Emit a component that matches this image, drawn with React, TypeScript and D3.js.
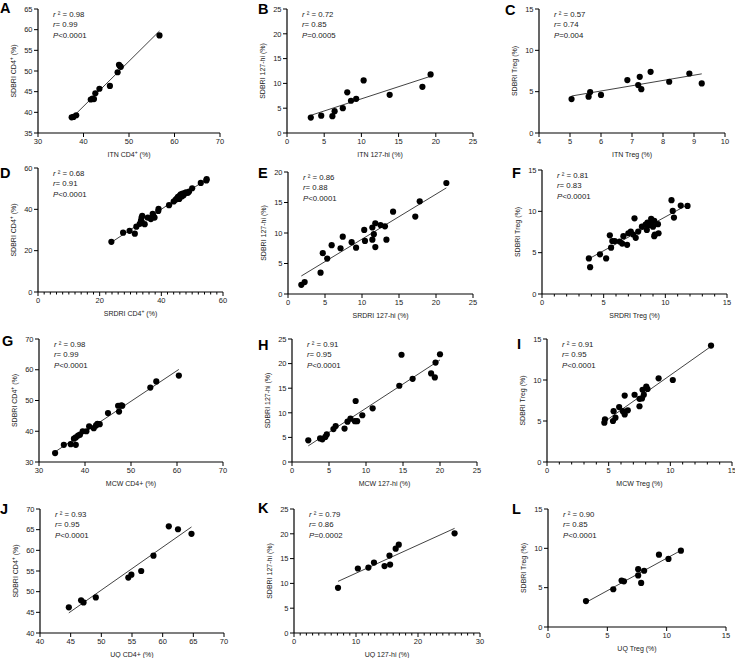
import React from "react";
import * as d3 from "d3";

type Pt = [number, number];

// panel letters, axis titles and stats
const letters = ["A", "B", "C", "D", "E", "F", "G", "H", "I", "J", "K", "L"];
const xTitles = [
  "ITN CD4^+ (%)", "ITN 127-hi (%)", "ITN Treg (%)",
  "SRDRI CD4^+ (%)", "SRDRI 127-hi (%)", "SRDRI Treg (%)",
  "MCW CD4+ (%)", "MCW 127-hi (%)", "MCW Treg (%)",
  "UQ CD4+ (%)", "UQ 127-hi (%)", "UQ Treg (%)",
];
const yTitles = [
  "SDBRI CD4^+ (%)", "SDBRI 127-hi (%)", "SDBRI Treg (%)",
  "SDBRI CD4^+ (%)", "SDBRI 127-hi (%)", "SDBRI Treg (%)",
  "SDBRI CD4^+ (%)", "SDBRI 127-hi (%)", "SDBRI Treg (%)",
  "SDBRI CD4^+ (%)", "SDBRI 127-hi (%)", "SDBRI Treg (%)",
];
const rSquared = ["0.98", "0.72", "0.57", "0.68", "0.86", "0.81", "0.98", "0.91", "0.91", "0.93", "0.79", "0.90"];
const rValues = ["0.99", "0.85", "0.74", "0.91", "0.88", "0.83", "0.99", "0.95", "0.95", "0.95", "0.86", "0.85"];
const pValues = ["<0.0001", "=0.0005", "=0.004", "<0.0001", "<0.0001", "<0.0001", "<0.0001", "<0.0001", "<0.0001", "<0.0001", "=0.0002", "<0.0001"];

// tick values
const xTicks = [
  [30, 40, 50, 60, 70], [0, 5, 10, 15, 20, 25], [4, 5, 6, 7, 8, 9, 10],
  [0, 20, 40, 60], [0, 5, 10, 15, 20, 25], [0, 5, 10, 15],
  [30, 40, 50, 60, 70], [0, 5, 10, 15, 20, 25], [0, 5, 10, 15],
  [40, 45, 50, 55, 60, 65, 70], [0, 10, 20, 30], [0, 5, 10, 15],
];
const yTicks = [
  [35, 40, 45, 50, 55, 60, 65], [0, 5, 10, 15, 20, 25], [0, 5, 10, 15],
  [0, 20, 40, 60], [0, 5, 10, 15, 20], [0, 5, 10, 15],
  [30, 40, 50, 60, 70], [0, 5, 10, 15, 20, 25], [0, 5, 10, 15],
  [40, 45, 50, 55, 60, 65, 70], [0, 5, 10, 15, 20, 25], [0, 5, 10, 15],
];
const xMinorStep = [0, 0, 0, 2, 0, 1, 0, 0, 1, 0, 1, 0];

// scatter data, one array per panel
const ptsA: Pt[] = [[37.4, 38.8], [37.8, 38.9], [38.4, 39.3], [41.6, 43.1], [42.0, 43.3], [42.3, 43.2], [42.6, 44.6], [43.5, 45.7], [45.8, 46.4], [47.5, 49.7], [47.8, 51.5], [48.0, 51.2], [48.2, 51.0], [56.7, 58.6]];
const ptsB: Pt[] = [[3.2, 3.1], [4.6, 3.5], [6.1, 3.4], [6.4, 4.4], [7.5, 5.0], [8.1, 8.2], [8.6, 6.5], [9.3, 6.9], [10.3, 10.6], [13.8, 7.7], [18.2, 9.3], [19.3, 11.8]];
const ptsC: Pt[] = [[5.05, 4.1], [5.6, 4.4], [5.65, 4.95], [6.0, 4.6], [6.85, 6.4], [7.2, 5.8], [7.25, 6.8], [7.3, 5.3], [7.6, 7.4], [8.2, 6.2], [8.85, 7.2], [9.25, 6.0]];
const ptsD: Pt[] = [[23.8, 24.3], [27.6, 28.7], [29.7, 29.6], [31.4, 28.2], [31.9, 31.6], [33.0, 33.0], [33.4, 34.5], [33.6, 36.0], [33.8, 36.8], [34.6, 32.8], [35.6, 36.0], [36.6, 35.3], [37.2, 37.8], [37.4, 36.8], [37.8, 36.0], [39.0, 39.2], [39.1, 40.2], [42.5, 42.0], [44.0, 43.8], [44.6, 44.6], [45.0, 45.2], [45.4, 46.0], [45.8, 45.0], [46.0, 46.6], [46.3, 47.2], [46.6, 46.2], [46.9, 47.6], [47.2, 46.8], [47.6, 47.8], [48.0, 48.2], [48.6, 48.0], [49.0, 48.6], [50.0, 50.2], [52.8, 52.8], [54.6, 54.0], [54.7, 54.6]];
const ptsE: Pt[] = [[1.8, 1.5], [2.25, 1.95], [4.4, 3.5], [4.7, 6.7], [5.3, 5.8], [5.9, 8.0], [7.1, 7.5], [7.4, 9.4], [8.6, 8.5], [9.2, 7.6], [10.3, 10.5], [10.4, 8.7], [11.4, 8.9], [11.4, 10.9], [11.6, 9.8], [11.8, 7.7], [11.8, 11.6], [12.5, 11.3], [13.1, 11.1], [13.3, 8.9], [14.2, 13.5], [17.2, 12.7], [17.8, 15.2], [21.4, 18.2]];
const ptsF: Pt[] = [[3.8, 4.3], [3.9, 3.25], [4.7, 4.8], [5.2, 4.3], [5.5, 7.1], [5.6, 5.6], [5.7, 6.4], [5.9, 6.4], [6.3, 6.35], [6.5, 6.1], [6.6, 7.0], [6.9, 5.95], [7.0, 7.35], [7.2, 7.55], [7.4, 7.2], [7.5, 9.15], [7.6, 6.8], [7.8, 7.55], [8.1, 8.15], [8.4, 8.4], [8.5, 7.75], [8.55, 8.65], [8.7, 8.35], [8.85, 9.1], [8.9, 8.75], [9.0, 8.15], [9.1, 8.85], [9.1, 7.0], [9.15, 7.2], [9.4, 8.45], [9.45, 7.35], [10.5, 11.35], [10.6, 10.05], [10.7, 9.25], [11.25, 10.7], [11.8, 10.65]];
const ptsG: Pt[] = [[33.5, 32.9], [35.4, 35.6], [36.9, 35.8], [37.6, 37.6], [38.0, 38.0], [38.0, 35.6], [38.5, 38.6], [38.9, 38.9], [39.5, 40.0], [40.3, 40.0], [40.9, 41.6], [41.9, 41.0], [42.4, 41.9], [42.7, 42.4], [43.2, 42.3], [45.0, 45.9], [47.2, 48.3], [47.4, 46.4], [47.9, 48.4], [48.1, 48.3], [54.2, 54.2], [55.5, 56.2], [60.4, 58.1]];
const ptsH: Pt[] = [[2.2, 4.4], [3.8, 4.8], [4.1, 4.6], [4.5, 5.1], [4.7, 5.6], [5.6, 6.7], [5.9, 7.3], [7.1, 6.8], [7.5, 8.2], [7.9, 8.8], [8.6, 12.4], [8.5, 8.3], [8.8, 8.3], [9.5, 9.5], [10.9, 10.9], [14.5, 15.5], [14.8, 21.8], [16.3, 16.9], [18.8, 18.0], [19.3, 17.2], [19.4, 20.2], [20.0, 21.9]];
const ptsI: Pt[] = [[4.65, 4.8], [4.7, 5.2], [5.35, 5.0], [5.4, 6.2], [5.55, 5.4], [5.85, 6.7], [6.15, 6.2], [6.3, 8.1], [6.3, 5.8], [6.55, 6.3], [7.1, 8.2], [7.5, 6.8], [7.5, 7.7], [7.7, 7.75], [7.75, 8.8], [7.85, 8.2], [8.05, 9.2], [8.15, 8.9], [9.05, 10.2], [10.2, 10.0], [13.3, 14.2]];
const ptsJ: Pt[] = [[44.7, 46.2], [46.7, 47.9], [47.1, 47.4], [49.1, 48.6], [54.4, 53.4], [54.9, 54.1], [56.5, 55.0], [58.5, 58.7], [61.0, 65.8], [62.5, 65.1], [64.7, 64.0]];
const ptsK: Pt[] = [[7.1, 9.1], [10.3, 13.0], [12.0, 13.2], [12.9, 14.2], [14.6, 13.5], [15.4, 15.6], [15.5, 13.8], [16.4, 17.0], [16.9, 17.8], [25.9, 20.1]];
const ptsL: Pt[] = [[3.2, 3.3], [5.5, 4.8], [6.2, 5.9], [6.4, 5.8], [7.6, 7.35], [7.6, 6.55], [7.85, 5.6], [8.1, 7.15], [9.35, 9.2], [10.15, 8.65], [11.2, 9.7]];
const panelPts = [ptsA, ptsB, ptsC, ptsD, ptsE, ptsF, ptsG, ptsH, ptsI, ptsJ, ptsK, ptsL];

// layout: plot frame [left, right, top, bottom] and letter position
const frames = [
  [38, 220, 9, 133], [287, 473, 9, 133], [539, 725, 9, 133],
  [38, 223, 168, 292], [288, 473, 172, 294], [542, 727, 170, 294],
  [39, 223, 339, 462], [292, 477, 339, 462], [547, 732, 339, 462],
  [40, 224, 509, 633], [294, 480, 509, 633], [548, 726, 509, 627],
];
const letterPos = [
  [0, 13], [258, 14], [505, 15],
  [0, 178], [258, 178], [512, 178],
  [2, 346], [258, 350], [517, 349],
  [0, 514], [258, 513], [512, 514],
];

const FONT = "'Liberation Sans', Arial, Helvetica, sans-serif";
const TXT = "#222";

function regression(pts: Pt[]) {
  const mx = d3.mean(pts, (d) => d[0]) as number;
  const my = d3.mean(pts, (d) => d[1]) as number;
  let sxy = 0, sxx = 0;
  pts.forEach(([x, y]) => { sxy += (x - mx) * (y - my); sxx += (x - mx) * (x - mx); });
  const slope = sxy / sxx;
  const icpt = my - slope * mx;
  const [x0, x1] = d3.extent(pts, (d) => d[0]) as [number, number];
  return [[x0, icpt + slope * x0], [x1, icpt + slope * x1]] as Pt[];
}

function Title({ text, ...rest }: any) {
  const parts = text.split("^+");
  return (
    <text {...rest}>
      {parts[0]}
      {parts.length > 1 && (
        <>
          <tspan dy={-2.5} fontSize={5}>+</tspan>
          <tspan dy={2.5}>{parts[1]}</tspan>
        </>
      )}
    </text>
  );
}

function Panel({ i }: { i: number }) {
  const [l, r, t, b] = frames[i];
  const xt = xTicks[i];
  const yt = yTicks[i];
  const x = d3.scaleLinear().domain([xt[0], xt[xt.length - 1]]).range([l, r]);
  const y = d3.scaleLinear().domain([yt[0], yt[yt.length - 1]]).range([b, t]);
  const pts = panelPts[i];
  const fit = regression(pts);
  const line = d3.line<Pt>().x((d) => x(d[0])).y((d) => y(d[1]));
  const minor = xMinorStep[i]
    ? d3.range(xt[0], xt[xt.length - 1] + 1e-9, xMinorStep[i]).filter((v) => !xt.includes(v))
    : [];
  const sx = l + 15;
  const sy = t + 7.5;
  return (
    <g>
      <text x={letterPos[i][0]} y={letterPos[i][1]} fontSize={14.5} fontWeight="bold" fill="#000" fontFamily={FONT}>
        {letters[i]}
      </text>
      {/* axes */}
      <line x1={l} x2={r} y1={b} y2={b} stroke="#000" strokeWidth={1.2} />
      <line x1={l} x2={l} y1={t} y2={b} stroke="#000" strokeWidth={1.2} />
      {xt.map((v) => (
        <g key={"x" + v}>
          <line x1={x(v)} x2={x(v)} y1={b} y2={b + 4} stroke="#000" strokeWidth={1} />
          <text x={x(v)} y={b + 11} fontSize={7.5} textAnchor="middle" fill={TXT} fontFamily={FONT}>{v}</text>
        </g>
      ))}
      {minor.map((v) => (
        <line key={"m" + v} x1={x(v)} x2={x(v)} y1={b} y2={b + 2.5} stroke="#000" strokeWidth={1} />
      ))}
      {yt.map((v) => (
        <g key={"y" + v}>
          <line x1={l - 4} x2={l} y1={y(v)} y2={y(v)} stroke="#000" strokeWidth={1} />
          <text x={l - 5.5} y={y(v) + 2.7} fontSize={7.5} textAnchor="end" fill={TXT} fontFamily={FONT}>{v}</text>
        </g>
      ))}
      {/* titles */}
      <Title text={xTitles[i]} x={(l + r) / 2} y={b + 23.5} fontSize={7} textAnchor="middle" fill={TXT} fontFamily={FONT} />
      <Title text={yTitles[i]} x={0} y={0} fontSize={7} textAnchor="middle" fill={TXT} fontFamily={FONT}
        transform={`translate(${l - 22.5},${(t + b) / 2}) rotate(-90)`} />
      {/* stats */}
      <g fontSize={7.8} fill={TXT} fontFamily={FONT}>
        <text x={sx} y={sy}><tspan fontStyle="italic">r</tspan> ² = {rSquared[i]}</text>
        <text x={sx} y={sy + 10.7}><tspan fontStyle="italic">r</tspan>= {rValues[i]}</text>
        <text x={sx} y={sy + 21.4}><tspan fontStyle="italic">P</tspan>{pValues[i]}</text>
      </g>
      {/* fit and dots */}
      <path d={line(fit) || ""} stroke="#111" strokeWidth={0.8} fill="none" />
      {pts.map((d, k) => (
        <circle key={k} cx={x(d[0])} cy={y(d[1])} r={3.1} fill="#000" />
      ))}
    </g>
  );
}

export default function App() {
  return (
    <div style={{ position: "absolute", left: 0, top: 0 }}>
      <svg width={735} height={658} style={{ display: "block", background: "#fff" }}>
        {letters.map((_, i) => <Panel key={i} i={i} />)}
      </svg>
    </div>
  );
}
